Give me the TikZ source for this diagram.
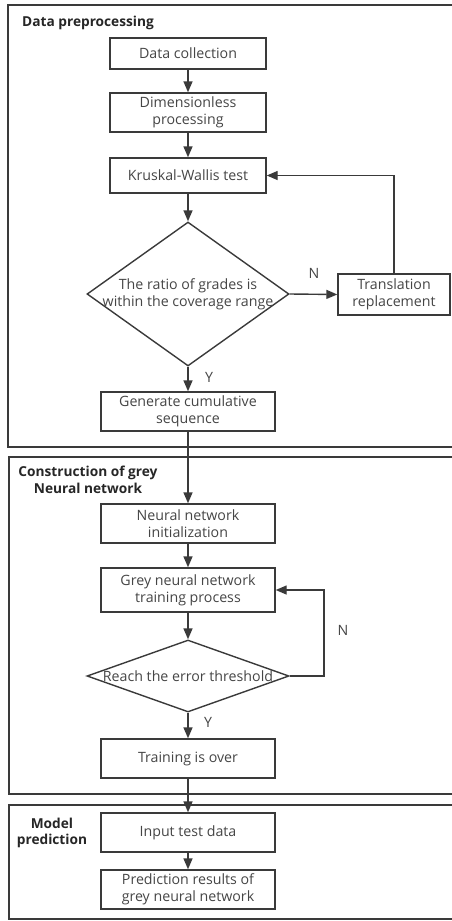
\documentclass[tikz,border=0pt]{standalone}
\usepackage{fontspec}
\setmainfont{Open Sans}
\usetikzlibrary{arrows.meta,shapes.geometric}
\definecolor{ln}{HTML}{3A3A3A}
\definecolor{tx}{HTML}{454545}
\begin{document}
\begin{tikzpicture}[x=1pt,y=-1pt,
  every node/.style={text=tx,font=\fontsize{14.2}{17}\selectfont},
  box/.style={draw=ln,line width=1.4pt,inner sep=1pt,align=center},
  dia/.style={draw=ln,line width=1.4pt,diamond,inner sep=0pt},
  frame/.style={draw=ln,line width=1.6pt},
  ttl/.style={font=\bfseries\fontsize{13.7}{16.5}\selectfont,text=black!85,align=center,inner sep=0pt},
  lbl/.style={inner sep=0pt},
  arr/.style={draw=ln,line width=1.4pt,-{Triangle[length=11pt,width=9pt]}}]
\useasboundingbox (0,0) rectangle (452,921);
% frames
\draw[frame] (8,5) rectangle (470,447);
\draw[frame] (9,457) rectangle (470,794);
\draw[frame] (9,805) rectangle (470,919);
\node[ttl,anchor=west] (t1) at (22,23) {Data preprocessing};
\node[ttl] (t2) at (88,480) {Construction of grey\\Neural network};
\node[ttl] (t3) at (52,833) {Model\\prediction};
% nodes
\node[box,minimum width=156,minimum height=31] (b1) at (188,53.5) {Data collection};
\node[box,minimum width=156,minimum height=39] (b2) at (188,112.5) {Dimensionless\\processing};
\node[box,minimum width=156,minimum height=35] (b3) at (188,175.5) {Kruskal-Wallis test};
\node[dia,minimum width=202,minimum height=144] (d1) at (188,294) {};
\node[lbl,align=center] (d1t) at (188,294) {The ratio of grades is\\within the coverage range};
\node[box,minimum width=112,minimum height=41] (tr) at (394,294.5) {Translation\\replacement};
\node[box,minimum width=174,minimum height=39] (g) at (188,411.5) {Generate cumulative\\sequence};
\node[box,minimum width=174,minimum height=39] (ni) at (188,523.5) {Neural network\\initialization};
\node[box,minimum width=174,minimum height=44] (gt) at (188,590) {Grey neural network\\training process};
\node[dia,minimum width=202,minimum height=72] (d2) at (188,676) {};
\node[lbl] (d2t) at (188,676) {Reach the error threshold};
\node[box,minimum width=174,minimum height=39] (to) at (188,758.5) {Training is over};
\node[box,minimum width=174,minimum height=39] (it) at (188,832.5) {Input test data};
\node[box,minimum width=174,minimum height=39] (pr) at (188,889.5) {Prediction results of\\grey neural network};
% labels
\node[lbl] (n1) at (314,273) {N};
\node[lbl] (y1) at (209,377) {Y};
\node[lbl] (n2) at (343,630) {N};
\node[lbl] (y2) at (208,722) {Y};
\coordinate (c2) at (324,676);
% connectors
\draw[arr] (b1) -- (b2);
\draw[arr] (b2) -- (b3);
\draw[arr] (b3) -- (d1);
\draw[arr] (d1.east) -- (tr.west);
\draw[arr] (tr.north) |- (b3.east);
\draw[arr] (d1.south) -- (g.north);
\draw[arr] (g) -- (ni);
\draw[arr] (ni) -- (gt);
\draw[arr] (gt) -- (d2.north);
\draw[arr] (d2.east) -- (c2) |- (gt.east);
\draw[arr] (d2.south) -- (to.north);
\draw[arr] (to) -- (it);
\draw[arr] (it) -- (pr);
\end{tikzpicture}
\end{document}
